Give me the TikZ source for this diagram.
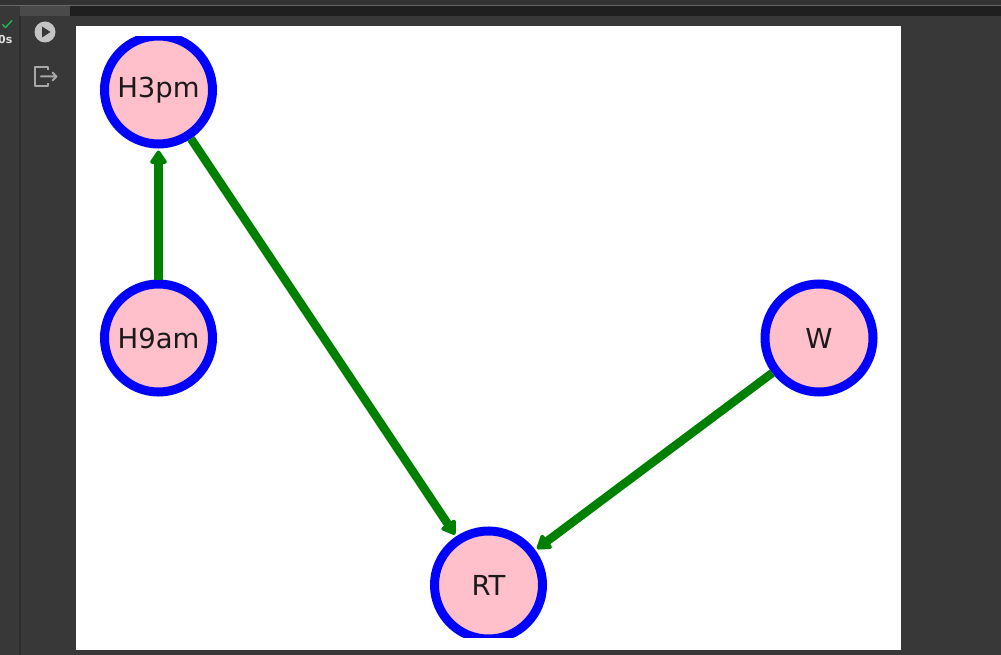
\documentclass[tikz,border=0pt]{standalone}
\usepackage{fontspec}
\setmainfont{DejaVu Sans}
\usetikzlibrary{arrows.meta}
\definecolor{pagebg}{HTML}{383838}
\definecolor{topbar}{HTML}{333333}
\definecolor{rulegray}{HTML}{666666}
\definecolor{tabbar}{HTML}{1F1F1F}
\definecolor{tabgray}{HTML}{4A4A4A}
\definecolor{divider}{HTML}{2E2E2E}
\definecolor{iconfill}{HTML}{C4C4C4}
\definecolor{iconline}{HTML}{A8A8A8}
\definecolor{okgreen}{HTML}{1EBE5A}
\definecolor{mplpink}{HTML}{FFC0CB}
\definecolor{mplgreen}{HTML}{008000}
\definecolor{mplblue}{HTML}{0000FF}
\definecolor{labelink}{HTML}{1A1A1A}
\begin{document}
\begin{tikzpicture}[x=1pt,y=-1pt,
  var/.style={circle, draw=mplblue, fill=mplpink, line width=9pt,
    minimum size=108pt, inner sep=0pt, text=labelink,
    font=\fontsize{27.5}{31}\selectfont},
  dep/.style={draw=mplgreen, line width=8.5pt,
    -{Triangle[length=15pt,width=19pt,round]}, shorten >=2pt}]
  % page and notebook chrome
  \useasboundingbox (0,0) rectangle (1001,655);
  \fill[pagebg] (0,0) rectangle (1001,655);
  \fill[topbar] (0,0) rectangle (1001,5);
  \fill[rulegray] (0,5) rectangle (1001,6.5);
  \fill[tabbar] (70,6.5) rectangle (1001,16);
  \fill[tabgray] (20,6.5) rectangle (70,16);
  \fill[divider] (19,16) rectangle (21,655);
  % run status
  \draw[okgreen, line width=1.3pt, line cap=round, line join=round]
    (2.5,24.5) -- (5.5,27.5) -- (12,20.5);
  \node[anchor=east, text=white!88!black, inner sep=0pt,
    font=\fontsize{11}{12}\selectfont\bfseries] (runtime) at (12.5,39.5) {0s};
  % run button
  \fill[iconfill] (45,32) circle (10.5);
  \fill[pagebg] (42,26.5) -- (42,37.5) -- (50.5,32) -- cycle;
  % output menu icon
  \draw[iconline, line width=2pt, line join=round]
    (47.5,70) -- (47.5,67.5) -- (34.5,67.5) -- (34.5,86) -- (47.5,86) -- (47.5,83);
  \draw[iconline, line width=2pt, line cap=round, line join=round]
    (41,76.5) -- (56.5,76.5) (52.5,72.5) -- (56.5,76.5) -- (52.5,80.5);
  % figure canvas
  \fill[white] (76,26) rectangle (901,650);
  \begin{scope}
    \clip (76,37) rectangle (901,637);
    \node[var] (h3pm) at (158.5,90) {H3pm};
    \node[var] (h9am) at (158.5,338) {H9am};
    \node[var] (w) at (819,338) {W};
    \node[var] (rt) at (488.5,585) {RT};
    \draw[dep] (h9am) -- (h3pm);
    \draw[dep] (h3pm) -- (rt);
    \draw[dep] (w) -- (rt);
  \end{scope}
\end{tikzpicture}
\end{document}
